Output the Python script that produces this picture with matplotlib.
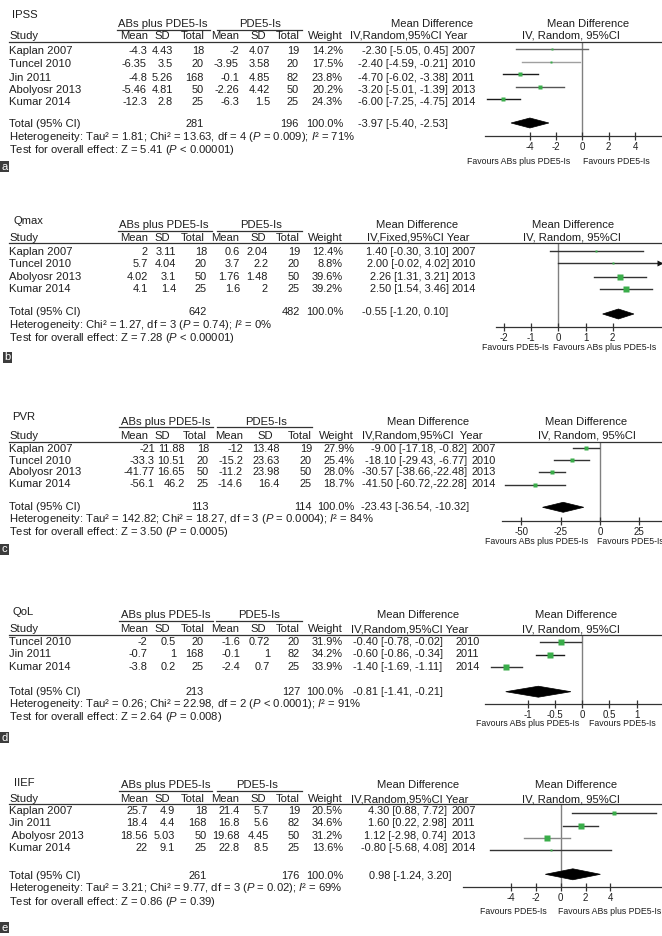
import matplotlib
matplotlib.use('Agg')
import matplotlib.pyplot as plt
from matplotlib.patches import Rectangle, Polygon
from matplotlib.lines import Line2D

W, H = 662, 936
plt.rcParams['font.family'] = ['Liberation Sans', 'DejaVu Sans']
plt.rcParams['mathtext.fontset'] = 'custom'
plt.rcParams['mathtext.rm'] = 'Liberation Sans'
plt.rcParams['mathtext.it'] = 'Liberation Sans:italic'
plt.rcParams['axes.unicode_minus'] = False

# ---------------- DATA ----------------
# a: IPSS
ipss_study = ['Kaplan 2007', 'Tuncel 2010', 'Jin 2011', 'Abolyosr 2013', 'Kumar 2014']
ipss_m1 = [-4.3, -6.35, -4.8, -5.46, -12.3]
ipss_sd1 = [4.43, 3.5, 5.26, 4.81, 2.8]
ipss_n1 = [18, 20, 168, 50, 25]
ipss_m2 = [-2, -3.95, -0.1, -2.26, -6.3]
ipss_sd2 = [4.07, 3.58, 4.85, 4.42, 1.5]
ipss_n2 = [19, 20, 82, 50, 25]
ipss_weight = [14.2, 17.5, 23.8, 20.2, 24.3]
ipss_md = [-2.30, -2.40, -4.70, -3.20, -6.00]
ipss_lo = [-5.05, -4.59, -6.02, -5.01, -7.25]
ipss_hi = [0.45, -0.21, -3.38, -1.39, -4.75]
ipss_year = [2007, 2010, 2011, 2013, 2014]
ipss_total = [-3.97, -5.40, -2.53]
ipss_ntot = [281, 196]
ipss_ticks = [-4, -2, 0, 2, 4]

# b: Qmax
qmax_study = ['Kaplan 2007', 'Tuncel 2010', 'Abolyosr 2013', 'Kumar 2014']
qmax_m1 = [2, 5.7, 4.02, 4.1]
qmax_sd1 = [3.11, 4.04, 3.1, 1.4]
qmax_n1 = [18, 20, 50, 25]
qmax_m2 = [0.6, 3.7, 1.76, 1.6]
qmax_sd2 = [2.04, 2.2, 1.48, 2]
qmax_n2 = [19, 20, 50, 25]
qmax_weight = [12.4, 8.8, 39.6, 39.2]
qmax_md = [1.40, 2.00, 2.26, 2.50]
qmax_lo = [-0.30, -0.02, 1.31, 1.54]
qmax_hi = [3.10, 4.02, 3.21, 3.46]
qmax_year = [2007, 2010, 2013, 2014]
qmax_total = [-0.55, -1.20, 0.10]
qmax_total_plotted = [2.21, 1.63, 2.78]   # diamond as drawn in the figure
qmax_ntot = [642, 482]
qmax_ticks = [-2, -1, 0, 1, 2]

# c: PVR
pvr_study = ['Kaplan 2007', 'Tuncel 2010', 'Abolyosr 2013', 'Kumar 2014']
pvr_m1 = [-21, -33.3, -41.77, -56.1]
pvr_sd1 = [11.88, 10.51, 16.65, 46.2]
pvr_n1 = [18, 20, 50, 25]
pvr_m2 = [-12, -15.2, -11.2, -14.6]
pvr_sd2 = [13.48, 23.63, 23.98, 16.4]
pvr_n2 = [19, 20, 50, 25]
pvr_weight = [27.9, 25.4, 28.0, 18.7]
pvr_md = [-9.00, -18.10, -30.57, -41.50]
pvr_lo = [-17.18, -29.43, -38.66, -60.72]
pvr_hi = [-0.82, -6.77, -22.48, -22.28]
pvr_year = [2007, 2010, 2013, 2014]
pvr_total = [-23.43, -36.54, -10.32]
pvr_ntot = [113, 114]
pvr_ticks = [-50, -25, 0, 25]

# d: QoL
qol_study = ['Tuncel 2010', 'Jin 2011', 'Kumar 2014']
qol_m1 = [-2, -0.7, -3.8]
qol_sd1 = [0.5, 1, 0.2]
qol_n1 = [20, 168, 25]
qol_m2 = [-1.6, -0.1, -2.4]
qol_sd2 = [0.72, 1, 0.7]
qol_n2 = [20, 82, 25]
qol_weight = [31.9, 34.2, 33.9]
qol_md = [-0.40, -0.60, -1.40]
qol_lo = [-0.78, -0.86, -1.69]
qol_hi = [-0.02, -0.34, -1.11]
qol_year = [2010, 2011, 2014]
qol_total = [-0.81, -1.41, -0.21]
qol_ntot = [213, 127]
qol_ticks = [-1, -0.5, 0, 0.5, 1]

# e: IIEF
iief_study = ['Kaplan 2007', 'Jin 2011', ' Abolyosr 2013', 'Kumar 2014']
iief_m1 = [25.7, 18.4, 18.56, 22]
iief_sd1 = [4.9, 4.4, 5.03, 9.1]
iief_n1 = [18, 168, 50, 25]
iief_m2 = [21.4, 16.8, 19.68, 22.8]
iief_sd2 = [5.7, 5.6, 4.45, 8.5]
iief_n2 = [19, 82, 50, 25]
iief_weight = [20.5, 34.6, 31.2, 13.6]
iief_md = [4.30, 1.60, 1.12, -0.80]
iief_lo = [0.88, 0.22, -2.98, -5.68]
iief_hi = [7.72, 2.98, 0.74, 4.08]
iief_md_plotted = [4.30, 1.60, -1.12, -0.80]   # point positions as drawn
iief_year = [2007, 2011, 2013, 2014]
iief_total = [0.98, -1.24, 3.20]
iief_ntot = [261, 176]
iief_ticks = [-4, -2, 0, 2, 4]

# ---------------- helpers ----------------
fig = plt.figure(figsize=(W / 100, H / 100), dpi=100)
FS = 8.1
NFS = 7.9
TC = '#1e1e1e'
GREEN = '#3aad4a'


def fx(x):
    return x / W


def fy(y):
    return 1 - y / H


def txt(x, y, s, ha='left', fs=FS, **kw):
    fig.text(fx(x), fy(y), s, ha=ha, va='center', fontsize=fs, color=TC, **kw)


def hline(x0, x1, y, color='#333333', lw=0.8):
    fig.add_artist(Line2D([fx(x0), fx(x1)], [fy(y), fy(y)], color=color, lw=lw,
                          transform=fig.transFigure))


def fmt(v):
    return '%g' % v


def label_box(x0, y0, letter):
    fig.add_artist(Rectangle((fx(x0), fy(y0 + 11)), 9 / W, 11 / H, transform=fig.transFigure,
                             facecolor='#3c3c3c', edgecolor='none'))
    fig.text(fx(x0 + 4.5), fy(y0 + 5.8), letter, ha='center', va='center', fontsize=8,
             color='white')


def panel(L, D):
    # titles and headers
    txt(L['tx'], L['ty'], L['title'])
    txt(L['g1c'], L['h1'], 'ABs plus PDE5-Is', ha='center')
    txt(L['g2c'], L['h1'], 'PDE5-Is', ha='center')
    hline(L['u1'][0], L['u1'][1], L['h1'] + 5.5, lw=0.9)
    hline(L['u2'][0], L['u2'][1], L['h1'] + 5.5, lw=0.9)
    txt(9, L['h2'], 'Study')
    hc = L['hcols']
    for x, s in zip(hc, ['Mean', 'SD', 'Total', 'Mean', 'SD', 'Total', 'Weight']):
        txt(x, L['h2'], s, ha='right')
    txt(L['mdhc'], L['h1'], 'Mean Difference', ha='center')
    txt(L['mdhx'], L['h2'], L['mdh2'])
    hline(9, 662, L['line'], lw=0.9)

    c = L['cols']
    for i, st in enumerate(D['study']):
        y = L['rows'][i]
        txt(9, y, st)
        txt(c[0], y, fmt(D['m1'][i]), ha='right', fs=NFS)
        txt(c[1], y, fmt(D['sd1'][i]), ha='right', fs=NFS)
        txt(c[2], y, fmt(D['n1'][i]), ha='right', fs=NFS)
        txt(c[3], y, fmt(D['m2'][i]), ha='right', fs=NFS)
        txt(c[4], y, fmt(D['sd2'][i]), ha='right', fs=NFS)
        txt(c[5], y, fmt(D['n2'][i]), ha='right', fs=NFS)
        txt(c[6], y, '%.1f%%' % D['w'][i], ha='right', fs=NFS)
        lo, hi = D['lo'][i], D['hi'][i]
        sep = ',' if (L.get('tight') and lo <= -10 and hi <= -10) else ', '
        s = '%.2f [%.2f%s%.2f]' % (D['md'][i], lo, sep, hi)
        if L['mdalign'] == 'right':
            txt(L['mdx'], y, s, ha='right', fs=NFS)
        else:
            txt(L['mdx'], y, s, fs=NFS)
        txt(L['yx'], y, str(D['year'][i]), fs=NFS)

    yt = L['ttl']
    txt(9, yt, 'Total (95% CI)')
    txt(c[2], yt, str(D['ntot'][0]), ha='right', fs=NFS)
    txt(c[5], yt, str(D['ntot'][1]), ha='right', fs=NFS)
    txt(c[6], yt, '100.0%', ha='right', fs=NFS)
    t = D['total']
    s = '%.2f [%.2f, %.2f]' % (t[0], t[1], t[2])
    if L['mdalign'] == 'right':
        txt(L['mdx'] + L.get('tdx', 0), yt, s, ha='right', fs=NFS)
    else:
        txt(L['mdx'], yt, s, fs=NFS)
    txt(9, L['het'], D['het'])
    txt(9, L['test'], D['test'])

    # right forest plot
    z, u, x0 = L['zero'], L['unit'], L['ax0']
    top, bot = L['line'], L['axy']
    ax = fig.add_axes([fx(x0), fy(bot), fx(662 - x0), (bot - top) / H])
    ax.set_xlim((x0 - z) / u, (662 - z) / u)
    ax.set_ylim(bot, top)
    ax.patch.set_alpha(0)
    for sp in ['top', 'right', 'left']:
        ax.spines[sp].set_visible(False)
    ax.spines['bottom'].set_color('#333333')
    ax.spines['bottom'].set_linewidth(0.9)
    ax.set_yticks([])
    ax.set_xticks(D['ticks'])
    ax.set_xticklabels([fmt(v) for v in D['ticks']])
    ax.tick_params(axis='x', direction='inout', length=6, width=0.9, pad=1.5,
                   labelsize=7, colors='#333333', labelcolor=TC)
    ax.axvline(0, color='#808080', lw=1.0, zorder=1)
    xmax = ax.get_xlim()[1]
    pm = D.get('pmd', D['md'])
    for i in range(len(D['study'])):
        y = L['mrows'][i]
        lo, hi = D['lo'][i], D['hi'][i]
        col = L['lc'][i]
        if hi > xmax:
            ax.plot([lo, xmax], [y, y], color=col, lw=1.0, zorder=2, clip_on=False)
            ax.plot([xmax - 2.5 / u], [y], marker='>', ms=4.5, color='#111111',
                    mec='none', zorder=3, clip_on=False)
        else:
            ax.plot([lo, hi], [y, y], color=col, lw=1.0, zorder=2)
        ax.plot([pm[i]], [y], marker='s', ms=max(1.6, 0.17 * D['w'][i] * 0.72),
                color=GREEN, mec='none', zorder=4)
    dt = D.get('ptotal', D['total'])
    yd = L['dy']
    hh = L.get('dh', 5.5)
    ax.add_patch(Polygon([(dt[1], yd), (dt[0], yd - hh), (dt[2], yd), (dt[0], yd + hh)],
                         closed=True, facecolor='black', edgecolor='black', lw=0.5, zorder=5))

    # right headers
    txt(L['rh1'], L['h1'], 'Mean Difference', ha='center')
    txt(L['rh2'], L['h2'], 'IV, Random, 95%CI', ha='center')
    fl, fr = L['fav']
    txt(fl[0], L['favy'], fl[1], ha='center', fs=6.3)
    txt(fr[0], L['favy'], fr[1], ha='center', fs=6.3)
    label_box(L['bx'][0], L['bx'][1], L['letter'])


P = r'$\mathit{P}$'
I2 = r'$\mathit{I}$²'

# ---------- panel a ----------
panel(dict(title='IPSS', tx=12, ty=15, h1=24, h2=36, line=42,
           g1c=163, g2c=260, u1=(117, 210), u2=(217, 302),
           hcols=[148, 170, 205, 239, 266, 300, 343],
           cols=[147, 173, 204, 239, 270, 299, 343],
           mdhc=432, mdhx=350, mdh2='IV,Random,95%CI Year',
           rows=[50.7, 64.3, 77.7, 90.3, 102.3], mrows=[49.3, 61.7, 74, 86.7, 99.3],
           mdx=448, mdalign='right', yx=452, ttl=124, het=137, test=150.2,
           zero=582.3, unit=13.2, ax0=485, axy=136, dy=123, dh=5,
           lc=['#666666', '#a0a0a0', '#1a1a1a', '#555555', '#1a1a1a'],
           rh1=588, rh2=571, favy=161,
           fav=((519, 'Favours ABs plus PDE5-Is'), (616, 'Favours PDE5-Is')),
           bx=(0, 161), letter='a'),
      dict(study=ipss_study, m1=ipss_m1, sd1=ipss_sd1, n1=ipss_n1, m2=ipss_m2, sd2=ipss_sd2,
           n2=ipss_n2, w=ipss_weight, md=ipss_md, lo=ipss_lo, hi=ipss_hi, year=ipss_year,
           total=ipss_total, ntot=ipss_ntot, ticks=ipss_ticks,
           het='Heterogeneity: Tau² = 1.81; Chi² = 13.63, df = 4 (' + P + ' = 0.009); ' + I2 + ' = 71%',
           test='Test for overall effect: Z = 5.41 (' + P + ' < 0.00001)'))

# ---------- panel b ----------
panel(dict(title='Qmax', tx=13, ty=221, h1=225, h2=238, line=243,
           g1c=164, g2c=261, u1=(118, 212), u2=(217, 302),
           hcols=[148, 170, 205, 239, 266, 300, 343],
           cols=[148, 176, 207, 240, 268, 300, 343],
           mdhc=417, mdhx=367, mdh2='IV,Fixed,95%CI Year',
           rows=[252, 264.3, 277.3, 289.3], mrows=[251, 263.3, 276.7, 289],
           mdx=449, mdalign='right', tdx=-1, yx=452, ttl=312, het=324.8, test=338,
           zero=558.3, unit=27.2, ax0=496, axy=327, dy=314, dh=5,
           lc=['#333333', '#333333', '#333333', '#333333'],
           rh1=573, rh2=572, favy=347,
           fav=((515, 'Favours PDE5-Is'), (605, 'Favours ABs plus PDE5-Is')),
           bx=(3, 351.5), letter='b'),
      dict(study=qmax_study, m1=qmax_m1, sd1=qmax_sd1, n1=qmax_n1, m2=qmax_m2, sd2=qmax_sd2,
           n2=qmax_n2, w=qmax_weight, md=qmax_md, lo=qmax_lo, hi=qmax_hi, year=qmax_year,
           total=qmax_total, ptotal=qmax_total_plotted, ntot=qmax_ntot, ticks=qmax_ticks,
           het='Heterogeneity: Chi² = 1.27, df = 3 (' + P + ' = 0.74); ' + I2 + ' = 0%',
           test='Test for overall effect: Z = 7.28 (' + P + ' < 0.00001)'))

# ---------- panel c ----------
panel(dict(title='PVR', tx=12, ty=417, h1=422, h2=436, line=442,
           g1c=166, g2c=266, u1=(119, 213), u2=(217, 312),
           hcols=[148, 170, 207, 243, 273, 312, 354],
           cols=[155, 185, 209, 243, 280, 312, 354],
           mdhc=428, mdhx=362, mdh2='IV,Random,95%CI  Year',
           rows=[449, 460.7, 472.3, 484.3], mrows=[448.3, 460, 472.3, 485],
           mdx=467, mdalign='right', tight=True, tdx=2, yx=472, ttl=507, het=518.8, test=532,
           zero=600, unit=1.572, ax0=502, axy=521, dy=507.3, dh=5,
           lc=['#333333', '#333333', '#333333', '#333333'],
           rh1=586, rh2=587, favy=542,
           fav=((537, 'Favours ABs plus PDE5-Is'), (630, 'Favours PDE5-Is')),
           bx=(0, 543.5), letter='c'),
      dict(study=pvr_study, m1=pvr_m1, sd1=pvr_sd1, n1=pvr_n1, m2=pvr_m2, sd2=pvr_sd2,
           n2=pvr_n2, w=pvr_weight, md=pvr_md, lo=pvr_lo, hi=pvr_hi, year=pvr_year,
           total=pvr_total, ntot=pvr_ntot, ticks=pvr_ticks,
           het='Heterogeneity: Tau² = 142.82; Chi² = 18.27, df = 3 (' + P + ' = 0.0004); ' + I2 + ' = 84%',
           test='Test for overall effect: Z = 3.50 (' + P + ' = 0.0005)'))

# ---------- panel d ----------
panel(dict(title='QoL', tx=12, ty=612, h1=615, h2=629, line=635,
           g1c=166, g2c=259, u1=(119, 213), u2=(216, 302),
           hcols=[148, 170, 205, 239, 266, 300, 343],
           cols=[147, 176, 204, 240, 270, 300, 343],
           mdhc=418, mdhx=351, mdh2='IV,Random,95%CI Year',
           rows=[641.7, 654.3, 666.7], mrows=[641.7, 655, 667.3],
           mdx=353, mdalign='left', yx=456, ttl=692, het=704, test=717.2,
           zero=582.3, unit=54.3, ax0=485, axy=704, dy=691.7, dh=5.5,
           lc=['#333333', '#1a1a1a', '#333333'],
           rh1=576, rh2=571, favy=724,
           fav=((528, 'Favours ABs plus PDE5-Is'), (622, 'Favours PDE5-Is')),
           bx=(0, 732), letter='d'),
      dict(study=qol_study, m1=qol_m1, sd1=qol_sd1, n1=qol_n1, m2=qol_m2, sd2=qol_sd2,
           n2=qol_n2, w=qol_weight, md=qol_md, lo=qol_lo, hi=qol_hi, year=qol_year,
           total=qol_total, ntot=qol_ntot, ticks=qol_ticks,
           het='Heterogeneity: Tau² = 0.26; Chi² = 22.98, df = 2 (' + P + ' < 0.0001); ' + I2 + ' = 91%',
           test='Test for overall effect: Z = 2.64 (' + P + ' = 0.008)'))

# ---------- panel e ----------
panel(dict(title='IIEF', tx=14, ty=783, h1=785, h2=799, line=804,
           g1c=166, g2c=257, u1=(119, 212), u2=(217, 302),
           hcols=[148, 170, 205, 239, 266, 300, 343],
           cols=[148, 175, 207, 240, 269, 300, 343],
           mdhc=418, mdhx=351, mdh2='IV,Random,95%CI Year',
           rows=[810.7, 823.3, 836, 848.3], mrows=[812.7, 825.7, 838, 850],
           mdx=447, mdalign='right', tdx=4, yx=452, ttl=876, het=888.3, test=901.7,
           zero=560.7, unit=12.4, ax0=463, axy=887, dy=874.3, dh=5.5,
           lc=['#333333', '#333333', '#888888', '#333333'],
           rh1=576, rh2=571, favy=911,
           fav=((513, 'Favours PDE5-Is'), (610, 'Favours ABs plus PDE5-Is')),
           bx=(0, 922), letter='e'),
      dict(study=iief_study, m1=iief_m1, sd1=iief_sd1, n1=iief_n1, m2=iief_m2, sd2=iief_sd2,
           n2=iief_n2, w=iief_weight, md=iief_md, pmd=iief_md_plotted, lo=iief_lo, hi=iief_hi,
           year=iief_year, total=iief_total, ntot=iief_ntot, ticks=iief_ticks,
           het='Heterogeneity: Tau² = 3.21; Chi² = 9.77, df = 3 (' + P + ' = 0.02); ' + I2 + ' = 69%',
           test='Test for overall effect: Z = 0.86 (' + P + ' = 0.39)'))

fig.savefig('out.png', dpi=100, facecolor='white')
